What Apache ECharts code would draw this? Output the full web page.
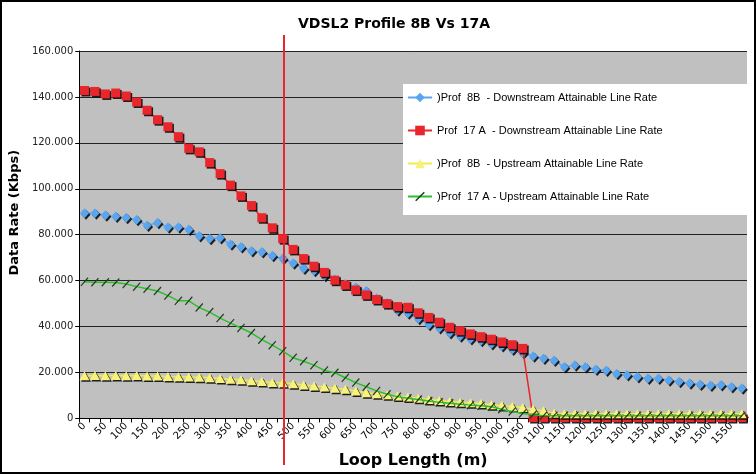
<!DOCTYPE html>
<html>
<head>
<meta charset="utf-8">
<script src="https://cdn.jsdelivr.net/npm/echarts@6/dist/echarts.min.js"></script>
<style>
html,body{margin:0;padding:0;background:#fff;}
#chart{width:756px;height:474px;}
</style>
</head>
<body>
<div id="chart"></div>
<script>
// ---- data (Kbps) ----
const loopLengths = ['0','25','50','75','100','125','150','175','200','225','250','275','300','325','350','375','400','425','450','475','500','525','550','575','600','625','650','675','700','725','750','775','800','825','850','875','900','925','950','975','1000','1025','1050','1075','1100','1125','1150','1175','1200','1225','1250','1275','1300','1325','1350','1375','1400','1425','1450','1475','1500','1525','1550','1575'];

const prof8bDown = [89400,89400,88500,87900,87400,86500,84000,85200,83300,83300,82300,79400,78300,78600,75800,74700,72900,72500,70800,69600,67600,65300,64300,62100,60500,58500,57000,55500,52300,50300,47100,45800,43400,40800,39400,37200,35800,34600,33800,32400,31500,30000,28500,27100,26100,25200,22400,23200,22400,21300,20900,19500,18900,18000,17400,17400,16600,16000,15300,14800,14400,14600,13700,13100];

const prof17aDown = [142800,142400,141300,141700,140400,137800,134200,130100,127000,122700,117600,116100,111400,106600,101600,96900,92700,87400,83000,78300,73600,69600,66300,63600,60200,58100,55900,53800,51800,50000,48700,48400,46000,44000,41900,39700,38200,36800,35600,34500,33300,32100,30500,400,400,400,400,400,400,400,400,400,400,400,400,400,400,400,400,400,400,400,400,400,400];

const prof8bUp = [18600,18700,18600,18700,18600,18700,18500,18500,18300,18200,18100,17900,17700,17400,17100,16800,16400,16100,15700,15500,15100,14600,14100,13700,13100,12700,12000,11200,10800,10300,9800,9300,8800,8300,7800,7400,7000,6800,6500,6000,5600,5200,4800,4000,3300,2300,2000,2000,2000,2000,2000,2000,2000,2000,2000,2000,2000,2000,2000,2000,2000,2000,2000,2000];

const prof17aUp = [59500,59300,59300,59200,58500,57400,56500,55500,53500,51200,51200,48300,46300,43700,41500,39400,37200,34300,31900,29300,26400,24900,23200,20900,19900,17700,15600,13800,12000,10500,9500,8800,8200,7600,7000,6600,6200,5800,5500,5100,4000,3000,2200,1600,1200,1200,1200,1200,1200,1200,1200,1200,1200,1200,1200,1200,1200,1200,1200,1200,1200,1200,1200,1200];

const seriesNames = [
  ')Prof  8B  - Downstream Attainable Line Rate',
  'Prof  17 A  - Downstream Attainable Line Rate',
  ')Prof  8B  - Upstream Attainable Line Rate',
  ')Prof  17 A - Upstream Attainable Line Rate'
];

const yTicks = [0, 160000, 20000]; // min, max, step
const MARK_LENGTH = 490;            // red reference line (m)
const MARK_AXIS = [-12.5, 1587.5];  // loop-length span of the category bands

const titleText = 'VDSL2 Profile 8B Vs 17A';
const xName = 'Loop Length (m)';
const yName = 'Data Rate (Kbps)';

// ---- chart ----
const chart = echarts.init(document.getElementById('chart'), null, {renderer:'canvas'});
const FONT = 'DejaVu Sans';
const shadow = {shadowColor:'rgba(0,0,0,0.85)', shadowOffsetX:1.5, shadowOffsetY:1.5, shadowBlur:0};

const option = {
  backgroundColor:'#fff',
  animation:false,
  title:{
    text:titleText, left:389, top:12, textAlign:'center',
    textStyle:{fontFamily:FONT, fontWeight:'bold', fontSize:14, color:'#000'}
  },
  legend:{
    orient:'vertical', left:403, top:84,
    backgroundColor:'#fff',
    padding:[8,86,13,4],
    itemGap:22, itemWidth:24, itemHeight:12,
    data:seriesNames,
    textStyle:{fontFamily:'Liberation Sans', fontSize:11, color:'#000'}
  },
  grid:[
    {left:71, top:51, width:676, height:370, show:true, backgroundColor:'#c0c0c0', borderWidth:0, containLabel:false},
    {left:71, top:35, width:676, bottom:9, show:false}
  ],
  xAxis:[
    {
      type:'category', data:loopLengths, boundaryGap:true, gridIndex:0,
      name:xName, nameLocation:'middle', nameGap:30,
      nameTextStyle:{fontFamily:FONT, fontWeight:'bold', fontSize:16, color:'#000'},
      axisLine:{lineStyle:{color:'#000', width:1}},
      axisTick:{show:true, interval:0, length:4, lineStyle:{color:'#000'}},
      axisLabel:{interval:1, rotate:45, fontFamily:FONT, fontSize:10, color:'#000', margin:6},
      splitLine:{show:false}
    },
    {type:'value', gridIndex:1, min:MARK_AXIS[0], max:MARK_AXIS[1], show:false}
  ],
  yAxis:[
    {
      type:'value', gridIndex:0, min:yTicks[0], max:yTicks[1], interval:yTicks[2],
      name:yName, nameLocation:'middle', nameGap:50,
      nameTextStyle:{fontFamily:FONT, fontWeight:'bold', fontSize:13, color:'#000', padding:[0,0,0,44]},
      axisLine:{show:true, lineStyle:{color:'#000'}},
      axisTick:{show:true, length:4, lineStyle:{color:'#000'}},
      axisLabel:{fontFamily:FONT, fontSize:10, color:'#222', margin:6,
        formatter:v => v === 0 ? '0' : (v/1000).toFixed(3)},
      splitLine:{show:true, lineStyle:{color:'#222', width:1}}
    },
    {type:'value', gridIndex:1, min:0, max:1, show:false}
  ],
  series:[
    {
      name:seriesNames[0], type:'line', data:prof8bDown, showAllSymbol:true,
      symbol:'diamond', symbolSize:[9,10],
      lineStyle:{color:'#5aa5f0', width:1.5},
      itemStyle:Object.assign({color:'#5aa5f0'}, shadow),
      z:2
    },
    {
      name:seriesNames[1], type:'line', data:prof17aDown, showAllSymbol:true,
      symbol:'rect', symbolSize:9,
      lineStyle:{color:'#e8262b', width:1.5},
      itemStyle:Object.assign({color:'#e8262b'}, shadow),
      z:3
    },
    {
      name:seriesNames[2], type:'line', data:prof8bUp, showAllSymbol:true,
      symbol:'triangle', symbolSize:[10,9],
      lineStyle:{color:'#f0ea50', width:1.5},
      itemStyle:Object.assign({color:'#f8f27a'}, shadow),
      z:4
    },
    {
      name:seriesNames[3], type:'line', data:prof17aUp, showAllSymbol:true,
      symbol:'path://M0,9 L8,0 L9,1 L1,10 Z', symbolSize:[8,9],
      lineStyle:{color:'#2cbf2c', width:1.5},
      itemStyle:{color:'#1f3f1f'},
      z:5
    },
    {
      name:'marker', type:'line', xAxisIndex:1, yAxisIndex:1, data:[],
      silent:true,
      markLine:{
        silent:true, symbol:'none', animation:false,
        label:{show:false},
        lineStyle:{color:'#e8262b', width:2, type:'solid'},
        data:[{xAxis:MARK_LENGTH}]
      },
      z:6
    }
  ],
  graphic:[
    {type:'rect', shape:{x:1, y:1, width:754, height:472}, style:{fill:null, stroke:'#000', lineWidth:2}, z:100, silent:true}
  ]
};
chart.setOption(option);
</script>
</body>
</html>
